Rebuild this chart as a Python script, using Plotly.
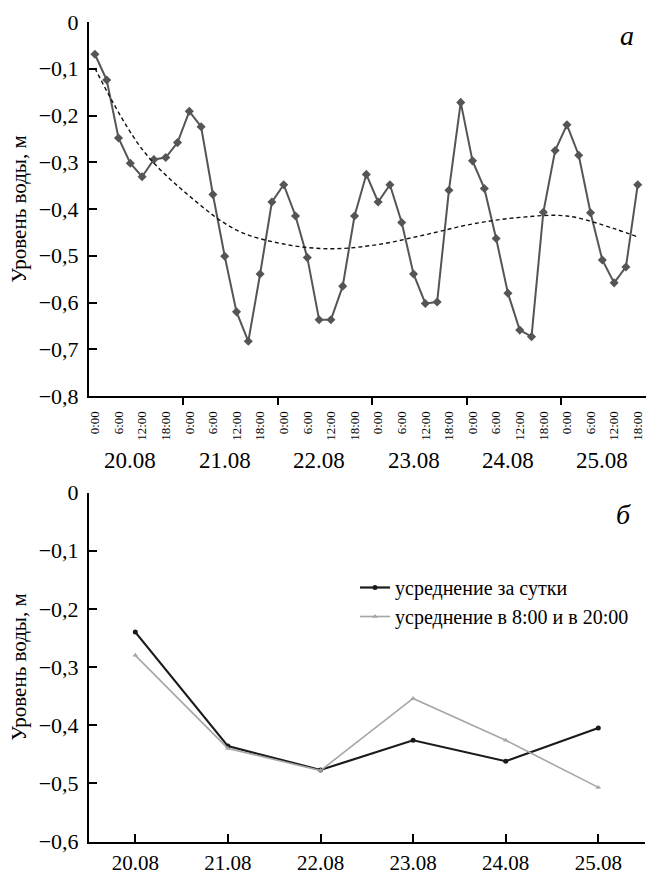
import plotly.graph_objects as go

# ---------- data: panel a (every 3 hours, 20.08 0:00 .. 25.08 18:00) ----------
level_3h = [-0.069, -0.124, -0.248, -0.302, -0.331, -0.294, -0.290, -0.258,
            -0.191, -0.224, -0.369, -0.501, -0.620, -0.683, -0.539, -0.385,
            -0.348, -0.415, -0.504, -0.637, -0.637, -0.565, -0.415, -0.326,
            -0.385, -0.348, -0.429, -0.539, -0.602, -0.599, -0.360, -0.172,
            -0.297, -0.356, -0.463, -0.580, -0.659, -0.673, -0.407, -0.275,
            -0.220, -0.285, -0.408, -0.509, -0.558, -0.524, -0.348]
trend_idx = [0, 4, 8, 12, 16, 20, 24, 28, 32, 36, 40, 44, 46]
trend_vals = [-0.099, -0.272, -0.372, -0.445, -0.475, -0.485, -0.476,
              -0.455, -0.432, -0.418, -0.415, -0.442, -0.460]
hour_labels = ["0:00", "6:00", "12:00", "18:00"]
days = ["20.08", "21.08", "22.08", "23.08", "24.08", "25.08"]
y_ticks_a = [0, -0.1, -0.2, -0.3, -0.4, -0.5, -0.6, -0.7, -0.8]

# ---------- data: panel б ----------
daily_mean = [-0.240, -0.436, -0.477, -0.426, -0.462, -0.405]
mean_8_20 = [-0.280, -0.440, -0.478, -0.354, -0.426, -0.507]
y_ticks_b = [0, -0.1, -0.2, -0.3, -0.4, -0.5, -0.6]
legend_names = ["усреднение за сутки", "усреднение в 8:00 и в 20:00"]

W, H = 646, 874
FONT = "Liberation Serif"


def fmt(v):
    if v == 0:
        return "0"
    return ("\u2212" + f"{abs(v):.1f}").replace(".", ",")


def px_y(p):
    return (H - p) / H


x_idx = list(range(len(level_3h)))

fig = go.Figure()
fig.add_trace(go.Scatter(
    x=x_idx, y=level_3h, mode="lines+markers", xaxis="x", yaxis="y",
    line=dict(color="#555555", width=2),
    marker=dict(symbol="diamond", size=7, color="#555555"),
    cliponaxis=False, showlegend=False))
fig.add_trace(go.Scatter(
    x=trend_idx, y=trend_vals, mode="lines", xaxis="x", yaxis="y",
    line=dict(color="#111111", width=1.4, dash="4px,3px", shape="spline", smoothing=1.0),
    showlegend=False))

fig.add_trace(go.Scatter(
    x=days, y=daily_mean, mode="lines+markers", xaxis="x2", yaxis="y2",
    name=legend_names[0],
    line=dict(color="#1a1a1a", width=2.2),
    marker=dict(symbol="circle", size=5, color="#1a1a1a")))
fig.add_trace(go.Scatter(
    x=days, y=mean_8_20, mode="lines+markers", xaxis="x2", yaxis="y2",
    name=legend_names[1],
    line=dict(color="#a6a6a6", width=1.6),
    marker=dict(symbol="triangle-up", size=5, color="#a6a6a6")))

n = len(level_3h)
hour_vals = [i for i in range(0, n, 2)]
hour_text = [hour_labels[(i // 2) % 4] for i in hour_vals]
day_bounds = [7.5 + 8 * k for k in range(5)]

xdom = [89 / W, 1.0]
fig.update_layout(
    template="none",
    width=W, height=H, margin=dict(l=0, r=0, t=0, b=0, autoexpand=False),
    paper_bgcolor="white", plot_bgcolor="white",
    font=dict(family=FONT, color="black", size=20),
    xaxis=dict(domain=xdom, range=[-0.5, 46.7], anchor="y", automargin=False,
               showline=True, linecolor="black", linewidth=2,
               showgrid=False, zeroline=False,
               tickmode="array", tickvals=hour_vals, ticktext=hour_text,
               ticks="", tickangle=-90, ticklabelstandoff=8,
               ticklabeloverflow="allow",
               tickfont=dict(size=13, family=FONT),
               minor=dict(tickmode="array", tickvals=day_bounds, ticks="outside",
                          ticklen=7, tickwidth=2, tickcolor="black", showgrid=False)),
    yaxis=dict(domain=[px_y(396), px_y(22)], range=[-0.8, 0], anchor="x", automargin=False,
               showline=True, linecolor="black", linewidth=2,
               showgrid=False, zeroline=False,
               tickmode="array", tickvals=y_ticks_a, ticktext=[fmt(v) for v in y_ticks_a],
               ticks="inside", ticklen=8, tickwidth=2, tickcolor="black",
               ticklabelstandoff=4, tickfont=dict(size=22, family=FONT),
               title=dict(text="Уровень воды, м", font=dict(size=21, family=FONT), standoff=6)),
    xaxis2=dict(domain=[89 / W, 644.6 / W], range=[-0.5, 5.5], anchor="y2", automargin=False,
                type="category", showline=True, linecolor="black", linewidth=2,
                showgrid=False, zeroline=False,
                ticks="inside", ticklen=8, tickwidth=2, tickcolor="black",
                tickfont=dict(size=21, family=FONT), ticklabelstandoff=1),
    yaxis2=dict(domain=[px_y(841.5), px_y(492.5)], range=[-0.6, 0], anchor="x2", automargin=False,
                showline=True, linecolor="black", linewidth=2,
                showgrid=False, zeroline=False,
                tickmode="array", tickvals=y_ticks_b, ticktext=[fmt(v) for v in y_ticks_b],
                ticks="inside", ticklen=8, tickwidth=2, tickcolor="black",
                ticklabelstandoff=4, tickfont=dict(size=22, family=FONT),
                title=dict(text="Уровень воды, м", font=dict(size=21, family=FONT), standoff=6)),
    legend=dict(x=355 / W, y=px_y(568), xanchor="left", yanchor="top",
                bgcolor="rgba(0,0,0,0)", font=dict(size=20, family=FONT),
                itemwidth=30, tracegroupgap=0),
)

annotations = []
for k, d in enumerate(days):
    annotations.append(dict(x=3 + 8 * k, y=px_y(460), xref="x", yref="paper",
                            text=d, showarrow=False, yanchor="middle",
                            font=dict(size=23, family=FONT)))
annotations.append(dict(x=636 / W, y=px_y(36), xref="paper", yref="paper",
                        text="<i>а</i>", showarrow=False, yanchor="middle",
                        font=dict(size=28, family=FONT)))
annotations.append(dict(x=633 / W, y=px_y(514), xref="paper", yref="paper",
                        text="<i>б</i>", showarrow=False, yanchor="middle",
                        font=dict(size=28, family=FONT)))
fig.update_layout(annotations=annotations)

fig.write_html("out.html", config={"displayModeBar": False},
               post_script="document.body.style.margin='0';document.body.style.overflow='hidden';")
